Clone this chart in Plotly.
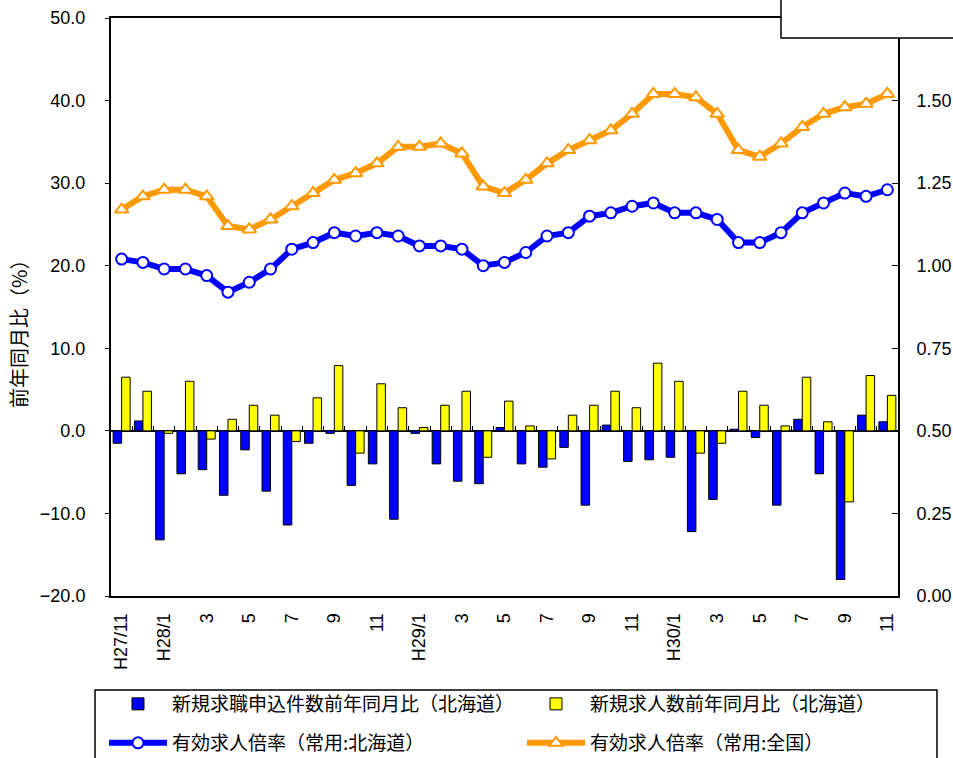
import plotly.graph_objects as go

# Months, Nov 2015 (H27/11) to Nov 2018 (H30/11)
categories = [
    "H27/11", "H27/12",
    "H28/1", "H28/2", "H28/3", "H28/4", "H28/5", "H28/6",
    "H28/7", "H28/8", "H28/9", "H28/10", "H28/11", "H28/12",
    "H29/1", "H29/2", "H29/3", "H29/4", "H29/5", "H29/6",
    "H29/7", "H29/8", "H29/9", "H29/10", "H29/11", "H29/12",
    "H30/1", "H30/2", "H30/3", "H30/4", "H30/5", "H30/6",
    "H30/7", "H30/8", "H30/9", "H30/10", "H30/11",
]

# Axis labels shown on every other month
tick_labels = ["H27/11", "H28/1", "3", "5", "7", "9", "11",
               "H29/1", "3", "5", "7", "9", "11",
               "H30/1", "3", "5", "7", "9", "11"]

# Year-on-year change (%), Hokkaido
new_applicants_yoy = [
    -1.5, 1.2, -13.2, -5.2, -4.7, -7.8, -2.3, -7.3, -11.4, -1.5, -0.3, -6.6,
    -4.0, -10.7, -0.3, -4.0, -6.1, -6.4, 0.4, -4.0, -4.4, -2.0, -9.0, 0.7,
    -3.7, -3.5, -3.2, -12.2, -8.3, 0.2, -0.8, -9.0, 1.4, -5.2, -18.0, 1.9, 1.1,
]
new_openings_yoy = [
    6.5, 4.8, -0.3, 6.0, -1.0, 1.4, 3.1, 1.9, -1.3, 4.0, 7.9, -2.7,
    5.7, 2.8, 0.4, 3.1, 4.8, -3.2, 3.6, 0.6, -3.4, 1.9, 3.1, 4.8,
    2.8, 8.2, 6.0, -2.7, -1.5, 4.8, 3.1, 0.6, 6.5, 1.1, -8.6, 6.7, 4.3,
]

# Active job openings-to-applicants ratio (regular employment)
ratio_hokkaido = [
    1.02, 1.01, 0.99, 0.99, 0.97, 0.92, 0.95, 0.99, 1.05, 1.07, 1.10, 1.09,
    1.10, 1.09, 1.06, 1.06, 1.05, 1.00, 1.01, 1.04, 1.09, 1.10, 1.15, 1.16,
    1.18, 1.19, 1.16, 1.16, 1.14, 1.07, 1.07, 1.10, 1.16, 1.19, 1.22, 1.21, 1.23,
]
ratio_national = [
    1.17, 1.21, 1.23, 1.23, 1.21, 1.12, 1.11, 1.14, 1.18, 1.22, 1.26, 1.28,
    1.31, 1.36, 1.36, 1.37, 1.34, 1.24, 1.22, 1.26, 1.31, 1.35, 1.38, 1.41,
    1.46, 1.52, 1.52, 1.51, 1.46, 1.35, 1.33, 1.37, 1.42, 1.46, 1.48, 1.49, 1.52,
]

x = list(range(len(categories)))

JP_FONT = "Noto Sans CJK JP"
NUM_FONT = "Liberation Sans"

fig = go.Figure()

fig.add_trace(go.Bar(
    x=x, y=new_applicants_yoy, name="新規求職申込件数前年同月比（北海道）",
    marker=dict(color="#0000FF", line=dict(color="black", width=1)),
    legend="legend",
))
fig.add_trace(go.Bar(
    x=x, y=new_openings_yoy, name="新規求人数前年同月比（北海道）",
    marker=dict(color="#FFFF00", line=dict(color="black", width=1)),
    legend="legend2",
))
fig.add_trace(go.Scatter(
    x=x, y=ratio_hokkaido, name="有効求人倍率（常用:北海道）", yaxis="y2",
    mode="lines+markers",
    line=dict(color="#0000FF", width=6),
    marker=dict(symbol="circle", size=11, color="white",
                line=dict(color="#0000FF", width=2)),
    legend="legend3",
))
fig.add_trace(go.Scatter(
    x=x, y=ratio_national, name="有効求人倍率（常用:全国）", yaxis="y2",
    mode="lines+markers",
    line=dict(color="#FF9900", width=6),
    marker=dict(symbol="triangle-up", size=12, color="white",
                line=dict(color="#FF9900", width=2)),
    legend="legend4",
))
# carrier for the tick marks along the zero line
fig.add_trace(go.Scatter(x=[], y=[], xaxis="x2", showlegend=False,
                         hoverinfo="skip"))

W, H = 953, 758
ML, MR, MT, MB = 111, 55, 18, 162
PW, PH = W - ML - MR, H - MT - MB


def px_x(p):
    return (p - ML) / PW


def px_y(p):
    return (MT + PH - p) / PH


def legend_at(left, top, size=19):
    return dict(
        orientation="h", xanchor="left", yanchor="top",
        x=px_x(left), y=px_y(top),
        bgcolor="rgba(0,0,0,0)", borderwidth=0, itemwidth=58,
        itemclick=False, itemdoubleclick=False,
        font=dict(family=JP_FONT, size=size),
    )


fig.update_layout(
    width=W, height=H,
    margin=dict(l=ML, r=MR, t=MT, b=MB, pad=0, autoexpand=False),
    paper_bgcolor="white", plot_bgcolor="white",
    showlegend=True,
    barmode="group", bargap=0.2, bargroupgap=0.0,
    font=dict(family=NUM_FONT, size=18, color="black"),
    xaxis=dict(
        range=[-0.5, len(categories) - 0.5],
        tickmode="array", tickvals=x[::2], ticktext=tick_labels,
        tickangle=-90, ticks="", ticklabelstandoff=8,
        showline=True, mirror=True, linecolor="black", linewidth=2,
        showgrid=False, zeroline=False, automargin=False,
        tickfont=dict(family=NUM_FONT, size=18),
    ),
    xaxis2=dict(
        overlaying="x", matches="x", anchor="free",
        position=20 / 70, side="bottom",
        tickmode="array", tickvals=[i - 0.5 for i in range(len(categories) + 1)],
        ticks="inside", ticklen=5, tickwidth=1, tickcolor="black",
        showticklabels=False, showline=False, showgrid=False, zeroline=False,
    ),
    yaxis=dict(
        range=[-20, 50], dtick=10, tickformat=".1f",
        ticks="outside", ticklen=4, tickwidth=1, tickcolor="black",
        ticklabelstandoff=16, automargin=False,
        showline=True, linecolor="black", linewidth=2,
        showgrid=False, zeroline=True, zerolinecolor="black", zerolinewidth=1.5,
        tickfont=dict(family=NUM_FONT, size=18),
    ),
    yaxis2=dict(
        overlaying="y", side="right",
        range=[0, 1.75], dtick=0.25, tickformat=".2f",
        ticks="inside", ticklen=6, tickwidth=1, tickcolor="black",
        ticklabelstandoff=13, automargin=False,
        showline=True, linecolor="black", linewidth=2,
        showgrid=False, zeroline=False,
        tickfont=dict(family=NUM_FONT, size=18),
    ),
    legend=legend_at(104, 685),
    legend2=legend_at(522, 685),
    legend3=legend_at(104, 724),
    legend4=legend_at(522, 724),
    annotations=[dict(
        text="前年同月比（%）", textangle=-90,
        xref="paper", yref="paper", x=px_x(19), y=px_y(329),
        xanchor="center", yanchor="middle", showarrow=False,
        font=dict(family=JP_FONT, size=20),
    )],
    shapes=[
        # legend frame
        dict(type="rect", xref="paper", yref="paper",
             x0=px_x(95), x1=px_x(937), y0=px_y(690), y1=px_y(790),
             line=dict(color="black", width=1.5), fillcolor="rgba(0,0,0,0)",
             layer="above"),
        # empty caption box at the top right
        dict(type="rect", xref="paper", yref="paper",
             x0=px_x(781), x1=px_x(970), y0=px_y(38), y1=px_y(-10),
             line=dict(color="black", width=1.5), fillcolor="white",
             layer="above"),
    ],
)

fig.write_html("out.html")
